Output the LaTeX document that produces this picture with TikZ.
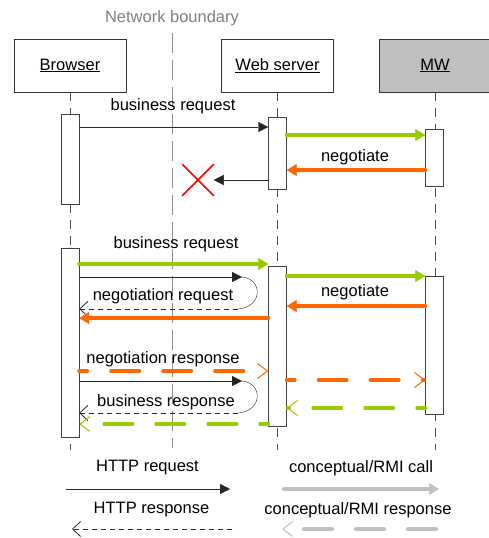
\documentclass[tikz,border=0pt]{standalone}
\usepackage{fontspec}
\setmainfont{Liberation Sans}
\usetikzlibrary{arrows.meta,shapes.misc}
\definecolor{rmigreen}{HTML}{99CC00}
\definecolor{rmiorange}{HTML}{FF6600}
\definecolor{legendgrey}{HTML}{C0C0C0}
\begin{document}
\begin{tikzpicture}[x=1pt, y=-1pt, every node/.style={font=\fontsize{16.5}{19}\selectfont},
 head/.style={draw=black!80, minimum width=112pt, minimum height=53pt, inner sep=0pt},
 bar/.style={draw=black!75, fill=white, minimum width=18pt, inner sep=0pt},
 life/.style={black!70, dash pattern=on 9pt off 7pt},
 http/.style={black!85, -{Triangle[length=10pt,width=10pt]}},
 httpback/.style={black!85, dash pattern=on 5pt off 4pt, -{Straight Barb[length=8pt,width=15pt,line width=0.8pt]}},
 rmi/.style={line width=4pt, line cap=round, -{Triangle[length=10pt,width=12pt,line width=0.5pt]}},
 rmiback/.style={line width=4pt, line cap=round, dash pattern=on 28pt off 24pt, dash phase=20pt, -{Straight Barb[length=10pt,width=15pt,line width=1pt]}}]
\useasboundingbox (0,0) rectangle (489,538);
\node[text=black!50] (netlabel) at (172,18) {Network boundary};
\draw[black!45, line width=1pt, dash pattern=on 20pt off 7pt] (netlabel.south |- 0,33) -- (netlabel.south |- 0,448);
\node[head] (browser) at (70,65.5) {\underline{Browser}};
\node[head] (web) at (277.5,65.5) {\underline{Web server}};
\node[head, fill=legendgrey] (mw) at (435,65.5) {\underline{MW}};
\draw[life] (browser.south) -- (browser.south |- 0,450); \draw[life] (web.south) -- (web.south |- 0,450); \draw[life] (mw.south) -- (mw.south |- 0,450);
\node[bar, minimum height=90pt] (br1) at (70,159) {};
\node[bar, minimum height=189pt] (br2) at (70,342.5) {};
\node[bar, minimum height=72pt] (ws1) at (277.5,153) {};
\node[bar, minimum height=160pt] (ws2) at (277.5,346) {};
\node[bar, minimum height=57pt] (mw1) at (434.5,157.5) {};
\node[bar, minimum height=138pt] (mw2) at (434.5,345.5) {};
\node[cross out, draw=red, line width=1.5pt, minimum size=30pt, inner sep=0pt] (cross) at (198,180) {};
\node (req1) at (173,106) {business request};
\node (neg1) at (355,157) {negotiate};
\node (req2) at (176,244) {business request};
\node (negreq) at (163,296) {negotiation request};
\node (neg2) at (355,292) {negotiate};
\node (negresp) at (163,359) {negotiation response};
\node (resp) at (166,402) {business response};
\coordinate (loopa) at (242,277); \coordinate (loopb) at (238,309);
\coordinate (loopc) at (242,381); \coordinate (loopd) at (238,413);
\draw[http] (br1.east |- 0,127) -- (ws1.west |- 0,127);
\draw[rmi, rmigreen] (ws1.east |- 0,135) -- (mw1.west |- 0,135);
\draw[rmi, rmiorange] (mw1.west |- 0,170) -- (ws1.east |- 0,170);
\draw[http] (ws1.west |- cross) -- (cross.east);
\draw[rmi, rmigreen] (br2.east |- 0,264) -- (ws2.west |- 0,264);
\draw[http] (br2.east |- loopa) -- (loopa);
\draw[black!85] (loopa) .. controls (263,279) and (263,307) .. (loopb);
\draw[httpback] (loopb) -- (br2.east |- loopb);
\draw[rmi, rmigreen] (ws2.east |- 0,276) -- (mw2.west |- 0,276);
\draw[rmi, rmiorange] (mw2.west |- 0,306) -- (ws2.east |- 0,306);
\draw[rmi, rmiorange] (ws2.west |- 0,318) -- (br2.east |- 0,318);
\draw[rmiback, rmiorange] (br2.east |- 0,371) -- (ws2.west |- 0,371);
\draw[rmiback, rmiorange] (ws2.east |- 0,380) -- (mw2.west |- 0,380);
\draw[http] (br2.east |- loopc) -- (loopc);
\draw[black!85] (loopc) .. controls (263,383) and (263,411) .. (loopd);
\draw[httpback] (loopd) -- (br2.east |- loopd);
\draw[rmiback, rmigreen] (mw2.west |- 0,408) -- (ws2.east |- 0,408);
\draw[rmiback, rmigreen] (ws2.west |- 0,424) -- (br2.east |- 0,424);
\node (httpreq) at (147.5,468) {HTTP request};
\node (httpresp) at (151.5,510) {HTTP response};
\node (rmicall) at (361,468) {conceptual/RMI call};
\node (rmiresp) at (358,510) {conceptual/RMI response};
\coordinate (hreqa) at (66,489); \coordinate (hreqb) at (230,489);
\coordinate (hrespa) at (232,529); \coordinate (hrespb) at (72,529);
\coordinate (rcalla) at (284,489); \coordinate (rcallb) at (439,489);
\coordinate (rrespa) at (436,529); \coordinate (rrespb) at (282,529);
\draw[http] (hreqa) -- (hreqb);
\draw[httpback] (hrespa) -- (hrespb);
\draw[rmi, legendgrey] (rcalla) -- (rcallb);
\draw[rmiback, legendgrey, dash phase=0pt] (rrespa) -- (rrespb);
\end{tikzpicture}
\end{document}
